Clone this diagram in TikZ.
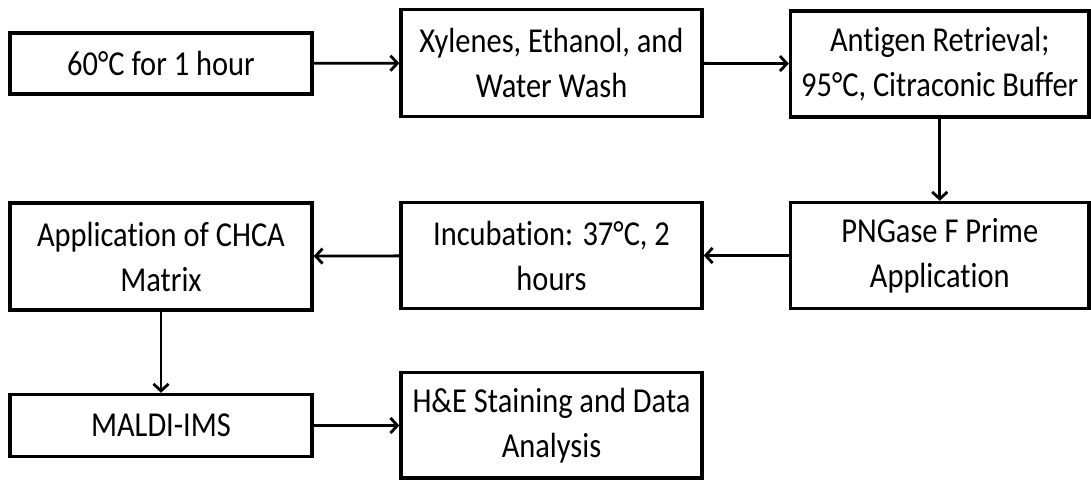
\documentclass[tikz,border=0pt]{standalone}
\usepackage{fontspec}
\setmainfont{Carlito}[FakeStretch=0.87, RawFeature={-liga}]
\usetikzlibrary{arrows.meta}
\begin{document}
\begin{tikzpicture}[x=1pt,y=1pt,
  stepbox/.style={draw=black, line width=3.3pt, fill=white, inner sep=0pt,
    align=center, font=\fontsize{35}{45}\selectfont},
  flow/.style={line width=2.8pt, -{Straight Barb[length=7pt,width=15pt]}}]
\useasboundingbox (0,0) rectangle (1091,481);
\fill[white] (0,0) rectangle (1091,481);
% y_tikz = 481 - y_image
\node[stepbox, minimum width=302pt, minimum height=61pt]  (A) at (161,417.5) {60°C for 1 hour};
\node[stepbox, minimum width=301pt, minimum height=107pt] (B) at (551.5,418) {Xylenes, Ethanol, and\\Water Wash};
\node[stepbox, minimum width=298.5pt, minimum height=106pt] (C) at (939.75,417) {Antigen Retrieval;\\95°C, Citraconic Buffer};
\node[stepbox, minimum width=298.5pt, minimum height=106pt] (D) at (939.75,225.5) {PNGase F Prime\\Application};
\node[stepbox, minimum width=301pt, minimum height=106pt] (E) at (551.5,225.5) {Incubation: 37°C, 2\\hours};
\node[stepbox, minimum width=302pt, minimum height=107pt] (F) at (161,224.5) {Application of CHCA\\Matrix};
\node[stepbox, minimum width=302pt, minimum height=62pt]  (G) at (161,55.5) {MALDI-IMS};
\node[stepbox, minimum width=301pt, minimum height=105.5pt] (H) at (551.5,55.75) {H\&E Staining and Data\\Analysis};
\draw[flow] (A) -- (B);
\draw[flow] (B) -- (C);
\draw[flow] (C) -- (D);
\draw[flow] (D) -- (E);
\draw[flow] (E) -- (F);
\draw[flow] (F) -- (G);
\draw[flow] (G.east) -- (G.east -| H.west);
\end{tikzpicture}
\end{document}
